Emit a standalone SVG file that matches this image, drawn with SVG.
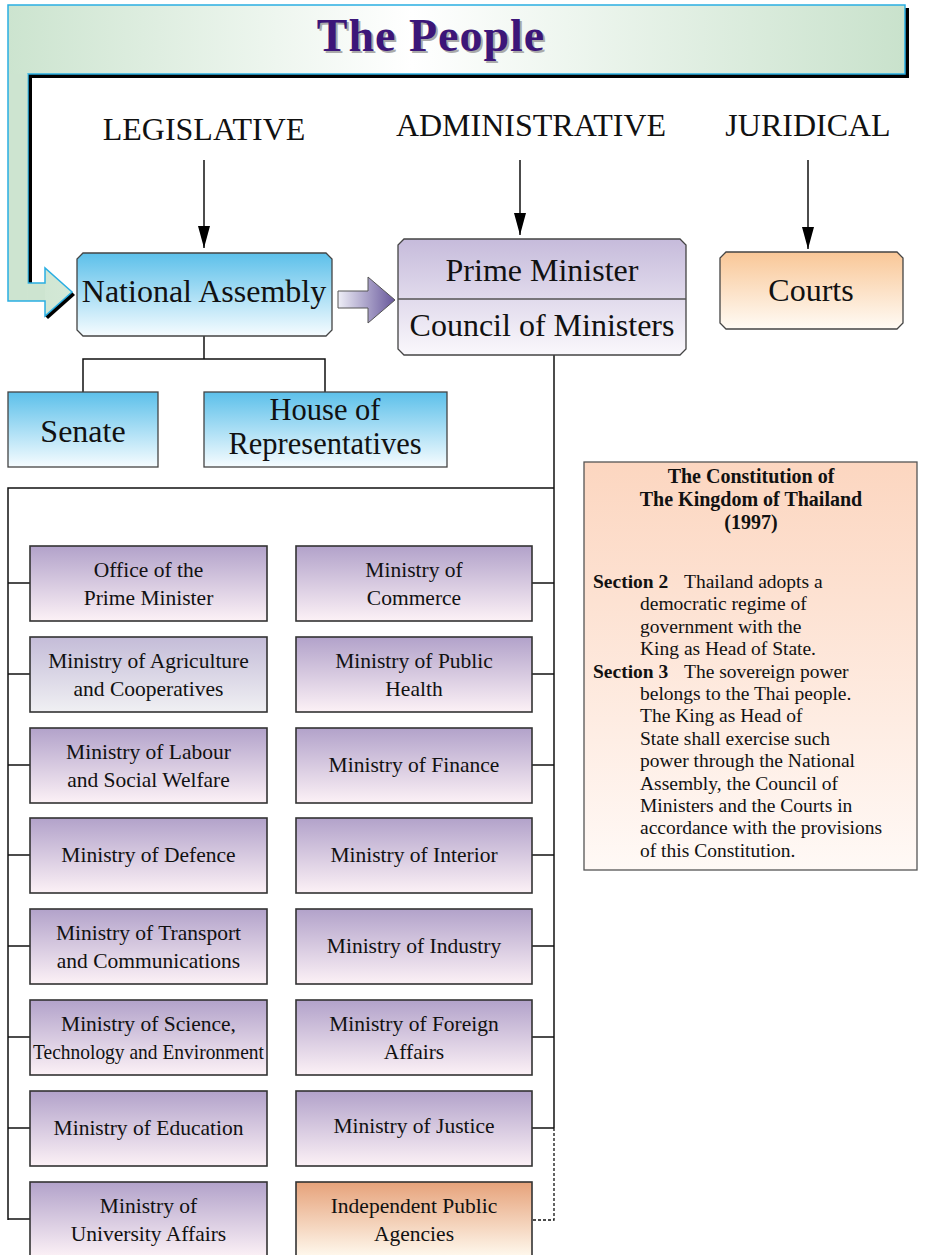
<svg xmlns="http://www.w3.org/2000/svg" width="932" height="1255" viewBox="0 0 932 1255">
<defs>
<linearGradient id="gBanner" x1="0" y1="0" x2="1" y2="0">
<stop offset="0" stop-color="#cce4cf"/><stop offset="0.45" stop-color="#ffffff"/><stop offset="1" stop-color="#c9e2cc"/>
</linearGradient>
<linearGradient id="gBlue" x1="0" y1="0" x2="0" y2="1">
<stop offset="0" stop-color="#5cc0ea"/><stop offset="1" stop-color="#f6fcff"/>
</linearGradient>
<linearGradient id="gPM" x1="0" y1="0" x2="0" y2="1">
<stop offset="0" stop-color="#c6bbdb"/><stop offset="1" stop-color="#faf8fc"/>
</linearGradient>
<linearGradient id="gCourt" x1="0" y1="0" x2="0" y2="1">
<stop offset="0" stop-color="#f9c797"/><stop offset="1" stop-color="#fffbf5"/>
</linearGradient>
<linearGradient id="gMin" x1="0" y1="0" x2="0" y2="1">
<stop offset="0" stop-color="#b2a2ca"/><stop offset="1" stop-color="#fcf1f6"/>
</linearGradient>
<linearGradient id="gAgri" x1="0" y1="0" x2="0" y2="1">
<stop offset="0" stop-color="#c4bcd8"/><stop offset="1" stop-color="#f0f0f3"/>
</linearGradient>
<linearGradient id="gInd" x1="0" y1="0" x2="0" y2="1">
<stop offset="0" stop-color="#e6a27a"/><stop offset="1" stop-color="#fff9ee"/>
</linearGradient>
<linearGradient id="gConst" x1="0" y1="0" x2="0" y2="1">
<stop offset="0" stop-color="#fcd6c0"/><stop offset="1" stop-color="#fff9f6"/>
</linearGradient>
<linearGradient id="gArrow" x1="0" y1="0" x2="1" y2="0">
<stop offset="0" stop-color="#eeeef7"/><stop offset="1" stop-color="#67579b"/>
</linearGradient>
<marker id="ah" viewBox="0 0 22 12" refX="22" refY="6" markerWidth="22" markerHeight="12" markerUnits="userSpaceOnUse" orient="auto">
<path d="M0,0 L22,6 L0,12 Z" fill="#000"/>
</marker>
<style>
text{font-family:"Liberation Serif","Times New Roman",serif;fill:#111;}
.big{font-size:32px;text-anchor:middle;}
.hdr{font-size:32px;text-anchor:middle;}
.min{font-size:21.5px;text-anchor:middle;}
.box{stroke:#444;stroke-width:1.3;}
.mbox{stroke:#333;stroke-width:1.6;}
.ln{stroke:#111;stroke-width:1.5;fill:none;}
.dash{stroke:#111;stroke-width:1.3;fill:none;stroke-dasharray:3,2;}
.ct{font-size:19.5px;}
.cb{font-size:19.5px;font-weight:bold;}
.title{font-size:20px;font-weight:bold;text-anchor:middle;}
</style>
</defs>

<g id="the-people">
<path d="M905,8 H909 V78 H32 V283 H28 V74 H905 Z" fill="#000"/>
<polygon points="72,292 75,295 48,319 45,316" fill="#000"/>
<polygon points="8,5 905,5 905,74 28,74 28,283 45,283 45,268 72,292 45,316 45,301 8,301" fill="url(#gBanner)" stroke="#2aaee2" stroke-width="1.5"/>
<rect x="9" y="74" width="18.5" height="226" fill="#cde4d0"/>
<rect x="28" y="284" width="17" height="16" fill="#cde4d0"/>
<text x="433" y="53" font-size="46" font-weight="bold" text-anchor="middle" letter-spacing="1" style="fill:#aaaaaa">The People</text>
<text x="431" y="51" font-size="46" font-weight="bold" text-anchor="middle" letter-spacing="1" style="fill:#3c1679">The People</text>
</g>

<g id="headers">
<text class="hdr" x="204" y="140">LEGISLATIVE</text>
<text class="hdr" x="531" y="136">ADMINISTRATIVE</text>
<text class="hdr" x="808" y="136">JURIDICAL</text>
</g>

<g id="connectors">
<line class="ln" x1="204" y1="160" x2="204" y2="248" marker-end="url(#ah)"/>
<line class="ln" x1="520" y1="160" x2="520" y2="235" marker-end="url(#ah)"/>
<line class="ln" x1="808" y1="160" x2="808" y2="249" marker-end="url(#ah)"/>
<polyline class="ln" points="204,336 204,359"/>
<polyline class="ln" points="83,392 83,359 325,359 325,392"/>
<polyline class="ln" points="554,355 554,1128"/>
<polyline class="ln" points="554,488 8,488 8,1220"/>
<line class="ln" x1="8" y1="583" x2="30" y2="583"/>
<line class="ln" x1="8" y1="674" x2="30" y2="674"/>
<line class="ln" x1="8" y1="765" x2="30" y2="765"/>
<line class="ln" x1="8" y1="855" x2="30" y2="855"/>
<line class="ln" x1="8" y1="946" x2="30" y2="946"/>
<line class="ln" x1="8" y1="1037" x2="30" y2="1037"/>
<line class="ln" x1="8" y1="1128" x2="30" y2="1128"/>
<line class="ln" x1="8" y1="1219" x2="30" y2="1219"/>
<line class="ln" x1="532" y1="583" x2="554" y2="583"/>
<line class="ln" x1="532" y1="674" x2="554" y2="674"/>
<line class="ln" x1="532" y1="765" x2="554" y2="765"/>
<line class="ln" x1="532" y1="855" x2="554" y2="855"/>
<line class="ln" x1="532" y1="946" x2="554" y2="946"/>
<line class="ln" x1="532" y1="1037" x2="554" y2="1037"/>
<line class="ln" x1="532" y1="1128" x2="554" y2="1128"/>
<polyline class="dash" points="554,1128 554,1220 532,1220"/>
<polygon points="338,291 368,291 368,277 395,300 368,323 368,308 338,308" fill="url(#gArrow)" stroke="#555" stroke-width="1"/>
</g>

<g id="national-assembly">
<path class="box" d="M83,253 H326 L332,259 V330 L326,336 H83 L77,330 V259 Z" fill="url(#gBlue)"/>
<text class="big" x="204" y="302">National Assembly</text>
</g>

<g id="prime-minister">
<path class="box" d="M404,239 H680 L686,245 V349 L680,355 H404 L398,349 V245 Z" fill="url(#gPM)"/>
<line x1="398" y1="299" x2="686" y2="299" stroke="#555" stroke-width="1.5"/>
<text class="big" x="542" y="281">Prime Minister</text>
<text class="big" x="542" y="336">Council of Ministers</text>
</g>

<g id="courts">
<path class="box" d="M726,252 H897 L903,258 V323 L897,329 H726 L720,323 V258 Z" fill="url(#gCourt)"/>
<text class="big" x="811" y="301">Courts</text>
</g>

<g id="senate">
<rect class="box" x="8" y="392" width="150" height="75" fill="url(#gBlue)"/>
<text class="big" x="83" y="442">Senate</text>
</g>

<g id="house">
<rect class="box" x="204" y="392" width="243" height="75" fill="url(#gBlue)"/>
<text class="big" x="325" y="420" style="font-size:30.5px">House of</text>
<text class="big" x="325" y="454" style="font-size:30.5px">Representatives</text>
</g>

<g id="office-pm">
<rect class="mbox" x="30" y="546" width="237" height="75" fill="url(#gMin)"/>
<text class="min" x="148.5" y="577">Office of the</text>
<text class="min" x="148.5" y="605">Prime Minister</text>
</g>
<g id="agriculture">
<rect class="mbox" x="30" y="637" width="237" height="75" fill="url(#gAgri)"/>
<text class="min" x="148.5" y="668">Ministry of Agriculture</text>
<text class="min" x="148.5" y="696">and Cooperatives</text>
</g>
<g id="labour">
<rect class="mbox" x="30" y="728" width="237" height="75" fill="url(#gMin)"/>
<text class="min" x="148.5" y="759">Ministry of Labour</text>
<text class="min" x="148.5" y="787">and Social Welfare</text>
</g>
<g id="defence">
<rect class="mbox" x="30" y="818" width="237" height="75" fill="url(#gMin)"/>
<text class="min" x="148.5" y="862">Ministry of Defence</text>
</g>
<g id="transport">
<rect class="mbox" x="30" y="909" width="237" height="75" fill="url(#gMin)"/>
<text class="min" x="148.5" y="940">Ministry of Transport</text>
<text class="min" x="148.5" y="968">and Communications</text>
</g>
<g id="science">
<rect class="mbox" x="30" y="1000" width="237" height="75" fill="url(#gMin)"/>
<text class="min" x="148.5" y="1031">Ministry of Science,</text>
<text class="min" x="148.5" y="1059" textLength="231" lengthAdjust="spacingAndGlyphs">Technology and Environment</text>
</g>
<g id="education">
<rect class="mbox" x="30" y="1091" width="237" height="75" fill="url(#gMin)"/>
<text class="min" x="148.5" y="1135">Ministry of Education</text>
</g>
<g id="university">
<rect class="mbox" x="30" y="1182" width="237" height="75" fill="url(#gMin)"/>
<text class="min" x="148.5" y="1213">Ministry of</text>
<text class="min" x="148.5" y="1241">University Affairs</text>
</g>

<g id="commerce">
<rect class="mbox" x="296" y="546" width="236" height="75" fill="url(#gMin)"/>
<text class="min" x="414" y="577">Ministry of</text>
<text class="min" x="414" y="605">Commerce</text>
</g>
<g id="public-health">
<rect class="mbox" x="296" y="637" width="236" height="75" fill="url(#gMin)"/>
<text class="min" x="414" y="668">Ministry of Public</text>
<text class="min" x="414" y="696">Health</text>
</g>
<g id="finance">
<rect class="mbox" x="296" y="728" width="236" height="75" fill="url(#gMin)"/>
<text class="min" x="414" y="772">Ministry of Finance</text>
</g>
<g id="interior">
<rect class="mbox" x="296" y="818" width="236" height="75" fill="url(#gMin)"/>
<text class="min" x="414" y="862">Ministry of Interior</text>
</g>
<g id="industry">
<rect class="mbox" x="296" y="909" width="236" height="75" fill="url(#gMin)"/>
<text class="min" x="414" y="953">Ministry of Industry</text>
</g>
<g id="foreign-affairs">
<rect class="mbox" x="296" y="1000" width="236" height="75" fill="url(#gMin)"/>
<text class="min" x="414" y="1031">Ministry of Foreign</text>
<text class="min" x="414" y="1059">Affairs</text>
</g>
<g id="justice">
<rect class="mbox" x="296" y="1091" width="236" height="75" fill="url(#gMin)"/>
<text class="min" x="414" y="1133">Ministry of Justice</text>
</g>
<g id="independent">
<rect class="mbox" x="296" y="1182" width="236" height="75" fill="url(#gInd)"/>
<text class="min" x="414" y="1213">Independent Public</text>
<text class="min" x="414" y="1241">Agencies</text>
</g>

<g id="constitution">
<rect x="584" y="462" width="333" height="408" fill="url(#gConst)" stroke="#555" stroke-width="1.3"/>
<text class="title" x="751" y="483">The Constitution of</text>
<text class="title" x="751" y="506">The Kingdom of Thailand</text>
<text class="title" x="751" y="529">(1997)</text>
<text class="cb" x="593" y="588">Section 2</text>
<text class="ct" x="684" y="588">Thailand adopts a</text>
<text class="ct" x="640" y="610">democratic regime of</text>
<text class="ct" x="640" y="633">government with the</text>
<text class="ct" x="640" y="655">King as Head of State.</text>
<text class="cb" x="593" y="678">Section 3</text>
<text class="ct" x="684" y="678">The sovereign power</text>
<text class="ct" x="640" y="700">belongs to the Thai people.</text>
<text class="ct" x="640" y="722">The King as Head of</text>
<text class="ct" x="640" y="745">State shall exercise such</text>
<text class="ct" x="640" y="767">power through the National</text>
<text class="ct" x="640" y="790">Assembly, the Council of</text>
<text class="ct" x="640" y="812">Ministers and the Courts in</text>
<text class="ct" x="640" y="834">accordance with the provisions</text>
<text class="ct" x="640" y="857">of this Constitution.</text>
</g>
</svg>
